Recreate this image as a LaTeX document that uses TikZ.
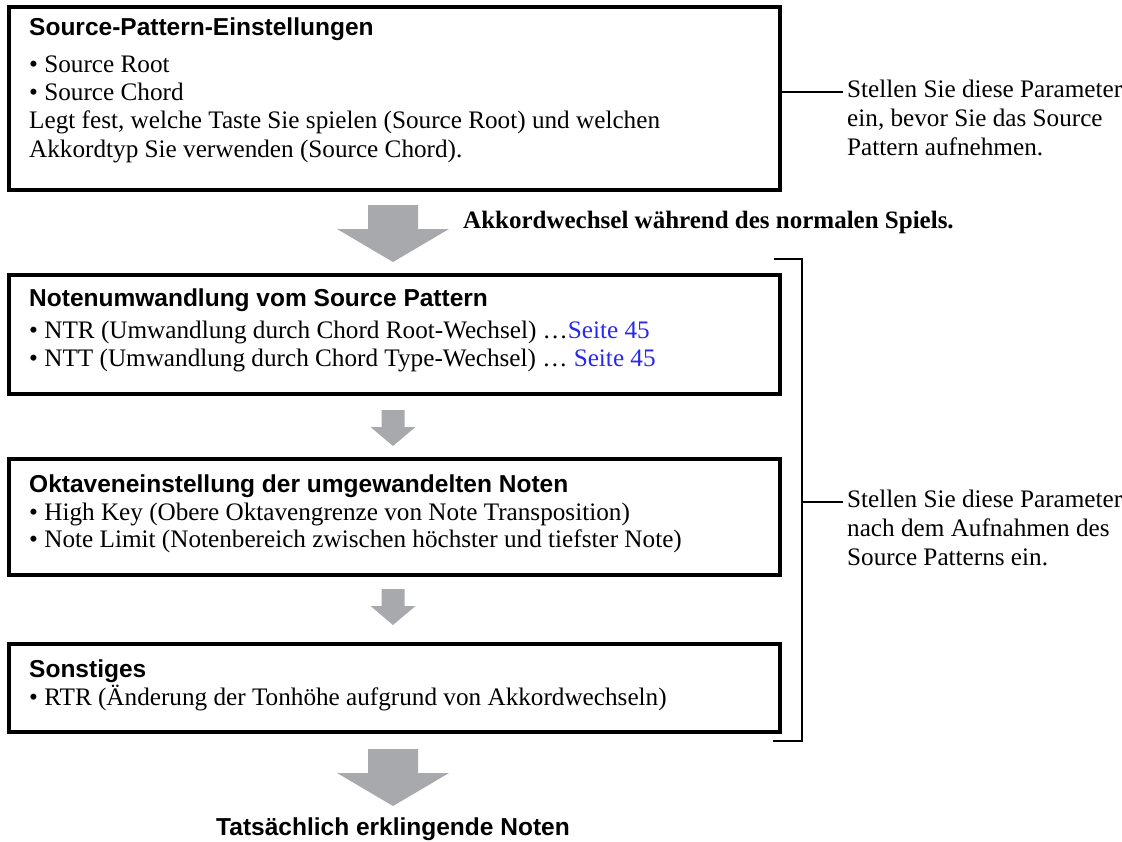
\documentclass[tikz,border=0pt]{standalone}
\usepackage{fontspec}
\setmainfont{Liberation Serif}
\setsansfont{Liberation Sans}
\definecolor{arrowgray}{RGB}{167,169,172}
\definecolor{linkblue}{RGB}{40,40,240}
\tikzset{
  box/.style={draw=black, line width=4pt, inner sep=0pt, anchor=north west},
  body/.style={anchor=base west, inner sep=0pt, font=\fontsize{25.2}{29}\selectfont},
  boldbody/.style={anchor=base west, inner sep=0pt, font=\fontsize{25}{29}\selectfont\bfseries},
  head/.style={anchor=base west, inner sep=0pt, font=\fontsize{24.5}{29}\selectfont\sffamily\bfseries},
  thinline/.style={line width=2pt},
  bigarrow/.pic={\fill[arrowgray] (-25,0) -- (25,0) -- (25,24) -- (56,24) -- (0,57) -- (-56,24) -- (-25,24) -- cycle;},
  smallarrow/.pic={\fill[arrowgray] (-11.5,0) -- (11.5,0) -- (11.5,17) -- (22.5,17) -- (0,36) -- (-22.5,17) -- (-11.5,17) -- cycle;}
}
\begin{document}
\begin{tikzpicture}[x=1pt,y=-1pt]
\useasboundingbox (0,0) rectangle (1122,841);
% boxes
\node[box, minimum width=771pt, minimum height=183pt] (b1) at (7,5) {};
\node[box, minimum width=771pt, minimum height=119pt] (b2) at (7,273) {};
\node[box, minimum width=771pt, minimum height=116pt] (b3) at (7,457) {};
\node[box, minimum width=771pt, minimum height=88pt] (b4) at (7,642) {};
% box 1 text
\node[head] (t1) at (29,35) {Source-Pattern-Einstellungen};
\node[body] (t1a) at (29,72) {• Source Root};
\node[body] (t1b) at (29,100) {• Source Chord};
\node[body] (t1c) at (29,128) {Legt fest, welche Taste Sie spielen (Source Root) und welchen};
\node[body] (t1d) at (29,157) {Akkordtyp Sie verwenden (Source Chord).};
% box 2 text
\node[head] (t2) at (29,306) {Notenumwandlung vom Source Pattern};
\node[body] (t2a) at (29,338) {• NTR (Umwandlung durch Chord Root-Wechsel) …\textcolor{linkblue}{Seite 45}};
\node[body] (t2b) at (29,366) {• NTT (Umwandlung durch Chord Type-Wechsel) … \textcolor{linkblue}{Seite 45}};
% box 3 text
\node[head] (t3) at (29,492) {Oktaveneinstellung der umgewandelten Noten};
\node[body] (t3a) at (29,520) {• High Key (Obere Oktavengrenze von Note Transposition)};
\node[body] (t3b) at (29,547) {• Note Limit (Notenbereich zwischen höchster und tiefster Note)};
% box 4 text
\node[head] (t4) at (29,677) {Sonstiges};
\node[body] (t4a) at (29,705) {• RTR (Änderung der Tonhöhe aufgrund von Akkordwechseln)};
% arrows
\pic at (393,205) {bigarrow};
\pic at (393,410) {smallarrow};
\pic at (393,589) {smallarrow};
\pic at (393,749) {bigarrow};
\node[boldbody] (ak) at (463,228) {Akkordwechsel während des normalen Spiels.};
\node[head, anchor=base] (res) at (393,835) {Tatsächlich erklingende Noten};
% right notes
\node[body] (r1a) at (847,97) {Stellen Sie diese Parameter};
\node[body] (r1b) at (847,126) {ein, bevor Sie das Source};
\node[body] (r1c) at (847,155) {Pattern aufnehmen.};
\coordinate (c1) at (843,92);
\draw[thinline] (b1.east |- c1) -- (c1);
\node[body] (r2a) at (847,507) {Stellen Sie diese Parameter};
\node[body] (r2b) at (847,536) {nach dem Aufnahmen des};
\node[body] (r2c) at (847,565) {Source Patterns ein.};
\coordinate (bt) at (802,259);
\coordinate (bb) at (802,741);
\coordinate (bm) at (802,502);
\coordinate (c2) at (843,502);
\draw[thinline] (774,259) -- (bt) -- (bb) -- (773,741);
\draw[thinline] (bm) -- (c2);
\end{tikzpicture}
\end{document}
